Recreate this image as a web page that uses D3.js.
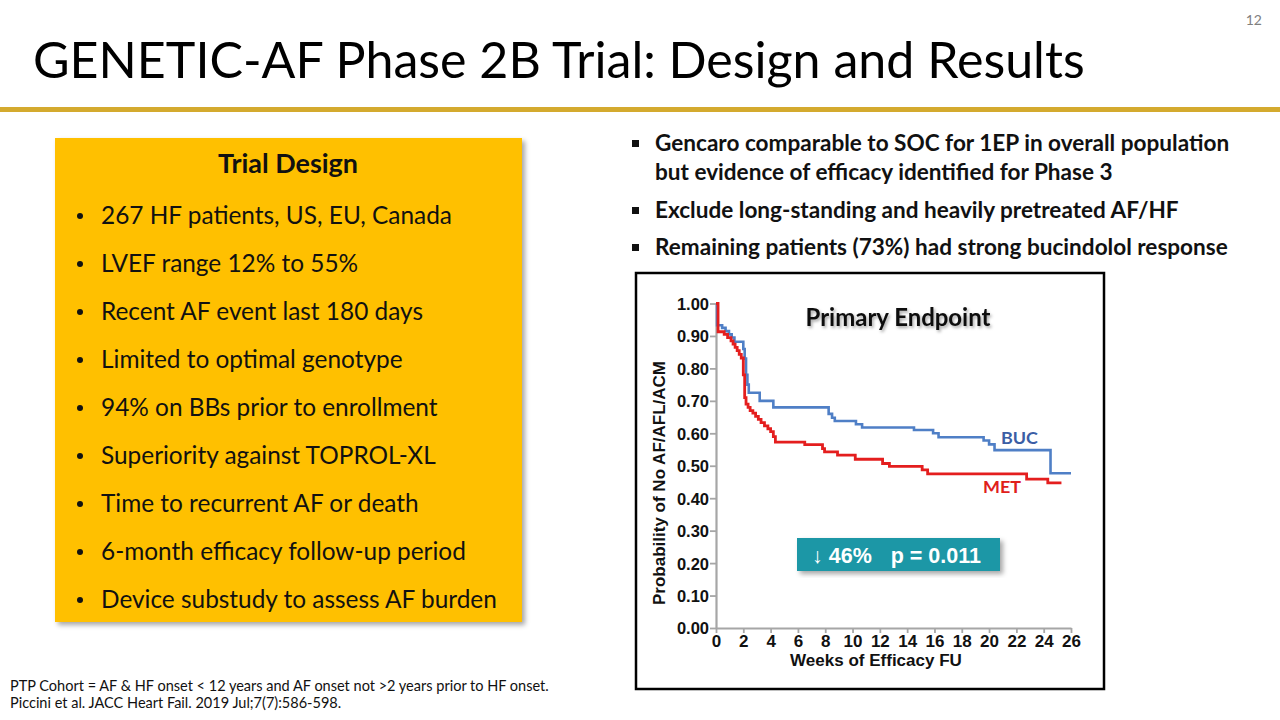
<!DOCTYPE html>
<html><head><meta charset="utf-8">
<script src="https://cdn.jsdelivr.net/npm/d3@7"></script>
<style>html,body{margin:0;padding:0;background:#fff;overflow:hidden}</style>
</head><body>
<svg id="c" width="1280" height="720"></svg>
<script>
// ---------- data ----------
const titleText = "GENETIC-AF Phase 2B Trial: Design and Results";
const pageNumber = "12";
const designTitle = "Trial Design";
const designBullets = [
  "267 HF patients, US, EU, Canada",
  "LVEF range 12% to 55%",
  "Recent AF event last 180 days",
  "Limited to optimal genotype",
  "94% on BBs prior to enrollment",
  "Superiority against TOPROL-XL",
  "Time to recurrent AF or death",
  "6-month efficacy follow-up period",
  "Device substudy to assess AF burden"
];
const resultLines = [
  ["Gencaro comparable to SOC for 1EP in overall population", "but evidence of efficacy identified for Phase 3"],
  ["Exclude long-standing and heavily pretreated AF/HF"],
  ["Remaining patients (73%) had strong bucindolol response"]
];
const footnotes = [
  "PTP Cohort = AF & HF onset < 12 years and AF onset not >2 years prior to HF onset.",
  "Piccini et al. JACC Heart Fail. 2019 Jul;7(7):586-598."
];
const chartTitle = "Primary Endpoint";
const yAxisLabel = "Probability of No AF/AFL/ACM";
const xAxisLabel = "Weeks of Efficacy FU";
const yTicks = [0,0.1,0.2,0.3,0.4,0.5,0.6,0.7,0.8,0.9,1.0];
const xTicks = [0,2,4,6,8,10,12,14,16,18,20,22,24,26];
const statReduction = "\u2193 46%";
const statP = "p = 0.011";

// Kaplan-Meier step data (weeks, survival)
const bucWeeks = [0,0.08,0.45,0.7,0.95,1.15,1.35,2.0,2.1,2.2,2.3,2.4,3.2,4.2,8.25,8.5,8.7,10.25,10.7,14.5,15.9,16.3,19.6,20.0,20.4,24.5,26.0];
const bucSurv  = [1.0,0.933,0.925,0.915,0.905,0.895,0.882,0.86,0.83,0.78,0.75,0.725,0.70,0.68,0.66,0.648,0.638,0.628,0.618,0.61,0.60,0.588,0.578,0.566,0.548,0.477,0.477];
const metWeeks = [0,0.15,0.6,0.85,1.1,1.25,1.4,1.55,1.7,1.85,2.0,2.1,2.2,2.35,2.5,2.7,2.9,3.1,3.3,3.55,3.8,4.0,4.2,4.35,6.5,7.8,7.95,8.9,10.2,12.2,12.7,15.1,15.5,22.75,24.3,25.3];
const metSurv  = [1.0,0.913,0.905,0.895,0.885,0.875,0.865,0.855,0.843,0.832,0.78,0.71,0.69,0.68,0.67,0.662,0.652,0.643,0.633,0.623,0.614,0.605,0.59,0.573,0.565,0.553,0.543,0.533,0.52,0.507,0.498,0.487,0.475,0.459,0.447,0.447];
const seriesNames = ["BUC","MET"];

// ---------- drawing ----------
const svg = d3.select("#c");
const defs = svg.append("defs");
const sh = defs.append("filter").attr("id","shadow").attr("x","-10%").attr("y","-10%").attr("width","130%").attr("height","130%");
sh.append("feDropShadow").attr("dx",3).attr("dy",3).attr("stdDeviation",2.5).attr("flood-color","#000").attr("flood-opacity",0.35);
const tsh = defs.append("filter").attr("id","tshadow").attr("x","-10%").attr("y","-30%").attr("width","130%").attr("height","180%");
tsh.append("feDropShadow").attr("dx",1.5).attr("dy",2).attr("stdDeviation",1.5).attr("flood-color","#000").attr("flood-opacity",0.35);

function fit(sel, target){
  const fs = parseFloat(sel.attr("font-size"));
  const w = sel.node().getComputedTextLength();
  sel.attr("font-size", fs*target/w);
  return fs*target/w;
}
const calibri = "Lato, 'Open Sans', sans-serif";
const arial = "'Liberation Sans', Arial, sans-serif";

// title
const t = svg.append("text").attr("x",33).attr("y",78).attr("font-family",calibri)
  .attr("font-size",50).attr("fill","#000").text(titleText);
fit(t, 1052);
svg.append("text").attr("x",1262).attr("y",25).attr("text-anchor","end").attr("font-family",calibri)
  .attr("font-size",14).attr("fill","#7f7f7f").text(pageNumber);
svg.append("rect").attr("x",0).attr("y",107).attr("width",1280).attr("height",5).attr("fill","#D4AA2E");

// trial design box
svg.append("rect").attr("x",55).attr("y",138).attr("width",467).attr("height",484)
  .attr("fill","#FFC000").attr("filter","url(#shadow)");
const dt = svg.append("text").attr("x",288).attr("y",173).attr("text-anchor","middle")
  .attr("font-family",calibri).attr("font-weight","bold").attr("font-size",24).attr("fill","#111").text(designTitle);
fit(dt,140);
const bulletY = d3.scaleLinear().domain([0,8]).range([224,608]);
const bl = svg.append("g");
const items = bl.selectAll("text.b").data(designBullets).join("text").attr("class","b")
  .attr("x",101).attr("y",(d,i)=>bulletY(i)).attr("font-family",calibri).attr("font-size",24).attr("fill","#111").text(d=>d);
const widest = items.filter((d,i)=>i===8);
const fsB = fit(widest,396);
items.attr("font-size",fsB);
bl.selectAll("circle").data(designBullets).join("circle").attr("cx",80).attr("cy",(d,i)=>bulletY(i)-8).attr("r",3).attr("fill","#111");

// right bullets
const rl = svg.append("g");
const rY = [[151,180],[218],[255]];
let allR = [];
resultLines.forEach((lines,i)=>{
  rl.append("rect").attr("x",632).attr("y",rY[i][0]-11).attr("width",7).attr("height",7).attr("fill","#111");
  lines.forEach((ln,j)=>{
    const tx = rl.append("text").attr("x",655).attr("y",rY[i][j]).attr("font-family",calibri).attr("font-weight","bold")
      .attr("font-size",19).attr("fill","#111").text(ln);
    allR.push(tx);
  });
});
const fsR = fit(allR[3],573);
allR.forEach(s=>s.attr("font-size",fsR));

// footnotes
const fn = footnotes.map((f,i)=>svg.append("text").attr("x",10).attr("y",691+i*17).attr("font-family",calibri)
  .attr("font-size",13).attr("fill","#111").text(f));
const fsF = fit(fn[0],539);
fn.forEach(s=>s.attr("font-size",fsF));

// chart frame
svg.append("rect").attr("x",636).attr("y",273).attr("width",468).attr("height",416)
  .attr("fill","#fff").attr("stroke","#000").attr("stroke-width",2.5);

const x = d3.scaleLinear().domain([0,26]).range([716,1071]);
const y = d3.scaleLinear().domain([0,1]).range([628,303.5]);

const yAxis = svg.append("g").attr("transform","translate(716,0)")
  .call(d3.axisLeft(y).tickValues(yTicks).tickFormat(d3.format(".2f")).tickSize(6).tickSizeOuter(0));
const xAxis = svg.append("g").attr("transform","translate(0,628)")
  .call(d3.axisBottom(x).tickValues(xTicks).tickFormat(d3.format("d")).tickSize(5).tickSizeOuter(0));
[yAxis,xAxis].forEach(a=>{
  a.attr("font-size",16.5).attr("font-family",arial);
  a.select(".domain").attr("stroke","#a6a6a6").attr("stroke-width",2.2);
  a.selectAll(".tick line").attr("stroke","#a6a6a6").attr("stroke-width",1.8);
  a.selectAll("text").attr("font-family",arial).attr("font-weight","bold").attr("font-size",16.5).attr("fill","#111");
});
yAxis.selectAll("text").attr("x",-7).attr("dy","0.36em");
xAxis.selectAll("text").attr("y",5).attr("dy","0.85em").attr("font-size",17);

const yl = svg.append("text").attr("transform","translate(665,483) rotate(-90)").attr("text-anchor","middle")
  .attr("font-family",arial).attr("font-weight","bold").attr("font-size",15).attr("fill","#111").text(yAxisLabel);
fit(yl,244);
const xl = svg.append("text").attr("x",876).attr("y",666).attr("text-anchor","middle")
  .attr("font-family",arial).attr("font-weight","bold").attr("font-size",16).attr("fill","#111").text(xAxisLabel);
fit(xl,172);

const ct = svg.append("text").attr("x",898).attr("y",326).attr("text-anchor","middle")
  .attr("font-family",calibri).attr("font-weight","bold").attr("font-size",21).attr("fill","#111")
  .attr("filter","url(#tshadow)").text(chartTitle);
fit(ct,185);

// curves
const line = d3.line().x(d=>x(d[0])).y(d=>y(d[1])).curve(d3.curveStepAfter);
const bucData = d3.zip(bucWeeks,bucSurv);
const metData = d3.zip(metWeeks,metSurv);
svg.append("path").datum(bucData).attr("d",line).attr("fill","none").attr("stroke","#4F7FC6").attr("stroke-width",2.6);
svg.append("path").datum(metData).attr("d",line).attr("fill","none").attr("stroke","#E41E1E").attr("stroke-width",2.8);

const bt = svg.append("text").attr("x",1001).attr("y",444).attr("font-family",calibri).attr("font-weight","bold")
  .attr("font-size",18).attr("fill","#3B5EA5").text(seriesNames[0]);
fit(bt,37);
const mt = svg.append("text").attr("x",983).attr("y",493).attr("font-family",calibri).attr("font-weight","bold")
  .attr("font-size",18).attr("fill","#E0201B").text(seriesNames[1]);
fit(mt,38);

// stat box
svg.append("rect").attr("x",797).attr("y",538).attr("width",203).attr("height",33)
  .attr("fill","#1F97A6").attr("filter","url(#shadow)");
svg.append("text").attr("x",812).attr("y",563)
  .attr("font-family",arial).attr("font-weight","bold").attr("font-size",21.5).attr("fill","#fff").text(statReduction);
svg.append("text").attr("x",981).attr("y",563).attr("text-anchor","end")
  .attr("font-family",arial).attr("font-weight","bold").attr("font-size",21.5).attr("fill","#fff").text(statP);
</script>
</body></html>
